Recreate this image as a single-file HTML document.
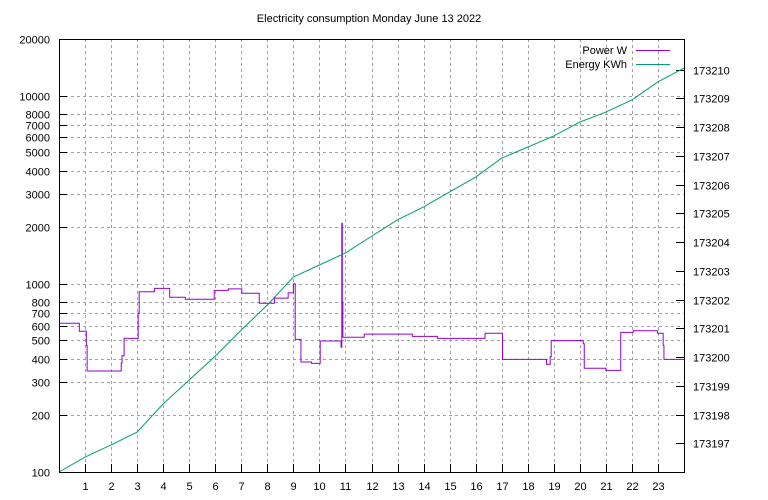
<!DOCTYPE html>
<html><head><meta charset="utf-8"><style>
body{margin:0;background:#fff}
svg{display:block;font-family:"Liberation Sans",sans-serif;font-size:11px}
</style></head><body>
<svg id="chart" width="768" height="500" viewBox="0 0 768 500"></svg>
<script>
const powerSteps = [[0,617],[0.78,560],[1.05,470],[1.08,344],[2.39,380],[2.42,415],[2.5,513],[3.04,700],[3.08,908],[3.67,946],[4.25,848],[4.85,828],[5.96,923],[6.5,940],[7.02,891],[7.69,788],[8.27,840],[8.8,895],[9.0,1000],[9.07,507],[9.29,384],[9.7,378],[10.03,497],[10.83,460],[10.86,2100],[10.88,800],[10.9,520],[11.72,540],[13.57,526],[14.53,513],[16.36,546],[17.03,397],[18.72,373],[18.86,410],[18.9,499],[20.13,480],[20.17,356],[21.0,347],[21.57,552],[22.05,563],[22.98,546],[23.2,470],[23.23,397],[24,397]];
const energyHours = [0,1,2,3,4,5,6,7,8,9,10,11,12,13,14,15,16,17,18,19,20,21,22,23,24];
const energyKWh = [173196.0,173196.52,173196.94,173197.39,173198.37,173199.2,173200.03,173200.94,173201.81,173202.78,173203.2,173203.62,173204.2,173204.77,173205.22,173205.74,173206.26,173206.92,173207.3,173207.69,173208.17,173208.52,173208.94,173209.57,173210.05];
const leftTicks = [100,200,300,400,500,600,700,800,1000,2000,3000,4000,5000,6000,7000,8000,10000,20000];
const rightTicks = [173197,173198,173199,173200,173201,173202,173203,173204,173205,173206,173207,173208,173209,173210];
const xTicks = [1,2,3,4,5,6,7,8,9,10,11,12,13,14,15,16,17,18,19,20,21,22,23];

const L=59,R=684,T=39,B=472;
const xs=h=>L+(h/24)*(R-L);
const yl=v=>B-(Math.log10(v)-2)/Math.log10(200)*(B-T);
const yr=v=>B-(v-173196)*28.75;
const svg=document.getElementById('chart');
const NS='http://www.w3.org/2000/svg';
function mk(t,a,p){const e=document.createElementNS(NS,t);for(const k in a)e.setAttribute(k,a[k]);(p||svg).appendChild(e);return e;}

let e=mk('text',{x:369,y:22,'text-anchor':'middle'});e.textContent='Electricity consumption Monday June 13 2022';



const grid=mk('g',{stroke:'#a0a0a0','stroke-width':1,'stroke-dasharray':'3,3'});


leftTicks.forEach(v=>{const y=Math.round(yl(v))+0.5;mk('line',{x1:L,x2:R,y1:y,y2:y},grid);});
xTicks.forEach(h=>{const x=Math.round(xs(h))+0.5;mk('line',{x1:x,x2:x,y1:T,y2:B},grid);});

leftTicks.forEach(v=>{const y=Math.round(yl(v))+0.5;
 mk('line',{x1:L,x2:L+8,y1:y,y2:y,stroke:'#000'});
 const t=mk('text',{x:L-9,y:y+4,'text-anchor':'end'});t.textContent=v;
 
 });
rightTicks.forEach(v=>{const y=Math.round(yr(v))+0.5;
 mk('line',{x1:R-8,x2:R,y1:y,y2:y,stroke:'#000'});
 const t=mk('text',{x:R+9,y:y+4});t.textContent=v;
 
 });
xTicks.forEach(h=>{const x=Math.round(xs(h))+0.5;
 mk('line',{x1:x,x2:x,y1:B-8,y2:B,stroke:'#000'});
 const t=mk('text',{x:x,y:B+18,'text-anchor':'middle'});t.textContent=h;
 
 });

let d='';
powerSteps.forEach((p,i)=>{const x=xs(p[0]),y=yl(p[1]);
 if(i===0)d+='M'+x+' '+y;else d+=' H'+x+' V'+y;});
const pl=mk('path',{d:d,fill:'none',stroke:'#9400d3','stroke-width':1});



const ep=energyHours.map((h,i)=>xs(h)+','+yr(energyKWh[i])).join(' ');
const el=mk('polyline',{points:ep,fill:'none',stroke:'#009e73','stroke-width':1});



const fr=mk('rect',{x:L+0.5,y:T+0.5,width:R-L,height:B-T,fill:'none',stroke:'#000'});



const lg=mk('g',{});


let t1=mk('text',{x:627,y:54,'text-anchor':'end'},lg);t1.textContent='Power W';
mk('line',{x1:636,x2:670,y1:50.5,y2:50.5,stroke:'#9400d3','stroke-width':1},lg);
let t2=mk('text',{x:627,y:68,'text-anchor':'end'},lg);t2.textContent='Energy KWh';
mk('line',{x1:636,x2:670,y1:64.5,y2:64.5,stroke:'#009e73','stroke-width':1},lg);
</script>
</body></html>
